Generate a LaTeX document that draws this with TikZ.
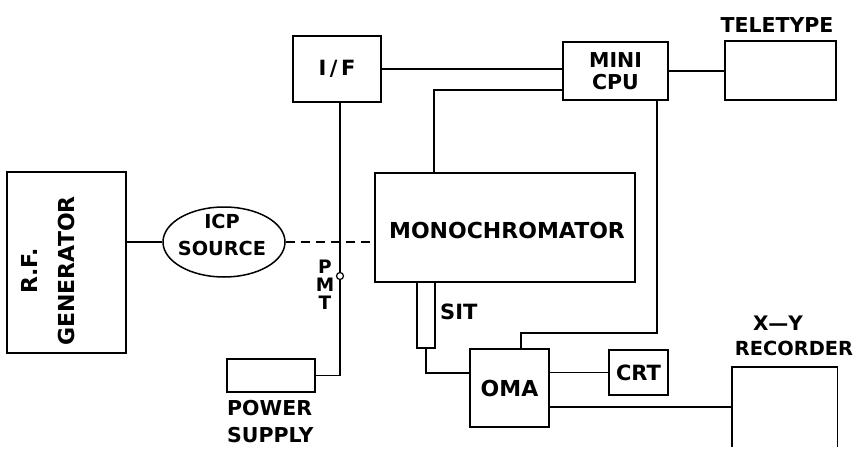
\documentclass[tikz,border=0pt]{standalone}
\usepackage{fontspec}
\setmainfont{DejaVu Sans}
\usetikzlibrary{shapes.geometric}
\begin{document}
\begin{tikzpicture}[x=1pt,y=-1pt,
  box/.style={draw, line width=1.5pt, rectangle, inner sep=0pt},
  wire/.style={line width=1.4pt},
  lbl/.style={font=\bfseries\fontsize{20}{24}\selectfont, inner sep=0pt, align=center},
]
\useasboundingbox (0,0) rectangle (858,449);
% boxes
\node[box, minimum width=119pt, minimum height=181pt] (rf) at (66.5,262.5) {};
\node[lbl, rotate=90, font=\bfseries\fontsize{22}{37}\selectfont] (rftext) at (48.5,271) {R.F.\\GENERATOR};
\node[draw, ellipse, line width=1.5pt, minimum width=122pt, minimum height=70pt, inner sep=0pt] (icp) at (224,242) {};
\node[lbl, font=\bfseries\fontsize{19.3}{27}\selectfont] (icptext) at (222,235) {ICP\\SOURCE};
\node[box, minimum width=260pt, minimum height=109pt] (mono) at (505,227.5) {};
\node[lbl, font=\bfseries\fontsize{22}{26}\selectfont] (monotext) at (507,230) {MONOCHROMATOR};
\node[box, lbl, minimum width=88pt, minimum height=66pt, font=\bfseries\fontsize{21}{24}\selectfont] (iff) at (337,69) {I\,/\,F};
\node[box, lbl, minimum width=105pt, minimum height=58pt, font=\bfseries\fontsize{20.5}{22}\selectfont] (cpu) at (615.5,71) {MINI\\CPU};
\node[box, minimum width=111pt, minimum height=59pt] (tty) at (780.5,70.5) {};
\node[lbl, font=\bfseries\fontsize{20.5}{24}\selectfont] (ttytext) at (777,25) {TELETYPE};
\node[box, minimum width=88pt, minimum height=33pt] (ps) at (271,375.5) {};
\node[lbl, align=left, anchor=west, font=\bfseries\fontsize{20.5}{27}\selectfont] (pstext) at (227,421.5) {POWER\\SUPPLY};
\node[box, lbl, minimum width=79pt, minimum height=78pt, font=\bfseries\fontsize{22}{24}\selectfont] (oma) at (509.5,388) {OMA};
\node[box, lbl, minimum width=59pt, minimum height=45pt, font=\bfseries\fontsize{21}{24}\selectfont] (crt) at (638.5,372.5) {CRT};
\node[inner sep=0pt, minimum width=105pt, minimum height=80pt] (xy) at (784.5,407) {};
\draw[wire] (xy.south west) -- (xy.north west) -- (xy.north east) -- (xy.south east);
\node[lbl] (xytext) at (778,323) {X—Y};
\node[lbl, font=\bfseries\fontsize{19.4}{24}\selectfont] (rectext) at (794,348) {RECORDER};
\node[box, minimum width=18pt, minimum height=66pt] (sit) at (426,315) {};
\node[lbl, anchor=west, font=\bfseries\fontsize{21}{24}\selectfont] (sittext) at (440,312) {SIT};
\node[lbl, font=\bfseries\fontsize{18.5}{18}\selectfont] (pmttext) at (325,285) {P\\M\\T};
% connectors
\coordinate (m1) at (434,90);
\coordinate (c1) at (657,333);
\coordinate (c2) at (521,333);
\coordinate (s1) at (426,373);
\coordinate (p1) at (340,276);
\draw[wire] (rf.east |- icp.west) -- (icp.west);
\draw[wire, dash pattern=on 9pt off 6pt] (icp.east) -- (mono.west |- icp.east);
\draw[wire] (p1 |- iff.south) -- (p1) |- (ps.east);
\draw[wire] (iff.east) -- (iff.east -| cpu.west);
\draw[wire] (m1 |- mono.north) -- (m1) -- (m1 -| cpu.west);
\draw[wire] (cpu.east) -- (cpu.east -| tty.west);
\draw[wire] (c1 |- cpu.south) -- (c1) -- (c2) -- (c2 |- oma.north);
\draw[wire] (sit.south) -- (s1) -- (s1 -| oma.west);
\draw[wire] (oma.east |- crt.west) -- (crt.west);
\draw[wire] (oma.east |- xy.west) -- (xy.west);
\node[circle, draw, line width=1.2pt, fill=white, minimum size=7pt, inner sep=0pt] (pmt) at (p1) {};
\end{tikzpicture}
\end{document}
